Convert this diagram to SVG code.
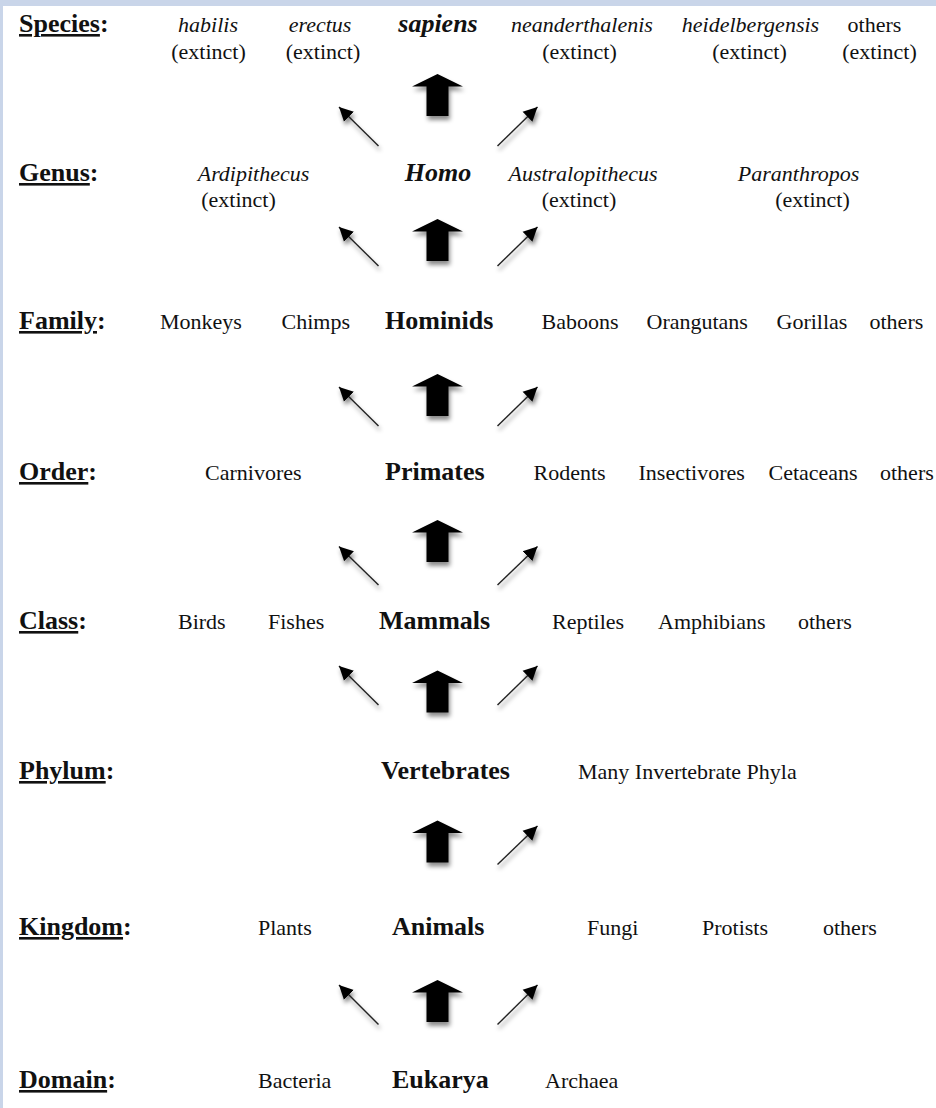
<svg xmlns="http://www.w3.org/2000/svg" width="936" height="1108" viewBox="0 0 936 1108">
<style>
text{font-family:"Liberation Serif","Times New Roman",serif;fill:#111}
.t{font-size:22px}
.i{font-size:22px;font-style:italic}
.b{font-size:26px;font-weight:bold}
.bi{font-size:26px;font-weight:bold;font-style:italic}
.m{text-anchor:middle}
.u{text-decoration:underline}
.big{fill:#000}
.diag{stroke:#222;stroke-width:1.4;fill:none;marker-end:url(#ah)}
</style>
<defs>
<marker id="ah" markerUnits="userSpaceOnUse" markerWidth="16" markerHeight="16" refX="14" refY="7" orient="auto" viewBox="0 0 16 14">
<path d="M0,0 L14,7 L0,14 Z" fill="#000"/>
</marker>
<filter id="sh" x="-30%" y="-30%" width="160%" height="170%">
<feDropShadow dx="1.5" dy="4" stdDeviation="2" flood-color="#000" flood-opacity="0.45"/>
</filter>
<path id="bigA" d="M0,0 L25.5,12.5 L11,12.5 L11,42 L-11,42 L-11,12.5 L-25.5,12.5 Z"/>
</defs>
<rect width="936" height="1108" fill="#fff"/>
<rect x="0" y="0" width="936" height="6" fill="#c9d5e9"/>
<rect x="0" y="0" width="3" height="1108" fill="#c9d5e9"/>

<g id="species-row">
<text class="b" x="19" y="32"><tspan class="u">Species</tspan>:</text>
<g id="n-habilis"><text class="i m" x="208" y="32">habilis</text><text class="t m" x="208.5" y="59">(extinct)</text></g>
<g id="n-erectus"><text class="i m" x="320" y="32">erectus</text><text class="t m" x="323" y="59">(extinct)</text></g>
<g id="n-sapiens"><text class="bi m" x="438" y="32">sapiens</text></g>
<g id="n-neanderthalenis"><text class="i m" x="582" y="32">neanderthalenis</text><text class="t m" x="579.5" y="59">(extinct)</text></g>
<g id="n-heidelbergensis"><text class="i m" x="750.5" y="32">heidelbergensis</text><text class="t m" x="749.5" y="59">(extinct)</text></g>
<g id="n-species-others"><text class="t m" x="874.5" y="32">others</text><text class="t m" x="879.5" y="59">(extinct)</text></g>
</g>

<g id="genus-row">
<text class="b" x="19" y="181"><tspan class="u">Genus</tspan>:</text>
<g id="n-ardipithecus"><text class="i m" x="253.5" y="181">Ardipithecus</text><text class="t m" x="238.5" y="207">(extinct)</text></g>
<g id="n-homo"><text class="bi m" x="438" y="181">Homo</text></g>
<g id="n-australopithecus"><text class="i m" x="583" y="181">Australopithecus</text><text class="t m" x="579" y="207">(extinct)</text></g>
<g id="n-paranthropos"><text class="i m" x="798.5" y="181">Paranthropos</text><text class="t m" x="812.5" y="207">(extinct)</text></g>
</g>

<g id="family-row">
<text class="b" x="19" y="329"><tspan class="u">Family</tspan>:</text>
<g id="n-monkeys"><text class="t" x="160" y="329">Monkeys</text></g>
<g id="n-chimps"><text class="t" x="281.5" y="329">Chimps</text></g>
<g id="n-hominids"><text class="b" x="385" y="329">Hominids</text></g>
<g id="n-baboons"><text class="t" x="541.5" y="329">Baboons</text></g>
<g id="n-orangutans"><text class="t" x="646.5" y="329">Orangutans</text></g>
<g id="n-gorillas"><text class="t" x="776.5" y="329">Gorillas</text></g>
<g id="n-family-others"><text class="t" x="869.5" y="329">others</text></g>
</g>

<g id="order-row">
<text class="b" x="19" y="480"><tspan class="u">Order</tspan>:</text>
<g id="n-carnivores"><text class="t" x="205" y="480">Carnivores</text></g>
<g id="n-primates"><text class="b" x="385" y="480">Primates</text></g>
<g id="n-rodents"><text class="t" x="533.5" y="480">Rodents</text></g>
<g id="n-insectivores"><text class="t" x="638.5" y="480">Insectivores</text></g>
<g id="n-cetaceans"><text class="t" x="768.5" y="480">Cetaceans</text></g>
<g id="n-order-others"><text class="t" x="880" y="480">others</text></g>
</g>

<g id="class-row">
<text class="b" x="19" y="629"><tspan class="u">Class</tspan>:</text>
<g id="n-birds"><text class="t" x="178" y="629">Birds</text></g>
<g id="n-fishes"><text class="t" x="268" y="629">Fishes</text></g>
<g id="n-mammals"><text class="b" x="379" y="629">Mammals</text></g>
<g id="n-reptiles"><text class="t" x="552" y="629">Reptiles</text></g>
<g id="n-amphibians"><text class="t" x="658" y="629">Amphibians</text></g>
<g id="n-class-others"><text class="t" x="798" y="629">others</text></g>
</g>

<g id="phylum-row">
<text class="b" x="19" y="779"><tspan class="u">Phylum</tspan>:</text>
<g id="n-vertebrates"><text class="b" x="381" y="779">Vertebrates</text></g>
<g id="n-invertebrates"><text class="t" x="578" y="779">Many Invertebrate Phyla</text></g>
</g>

<g id="kingdom-row">
<text class="b" x="19" y="935"><tspan class="u">Kingdom</tspan>:</text>
<g id="n-plants"><text class="t" x="258" y="935">Plants</text></g>
<g id="n-animals"><text class="b" x="392" y="935">Animals</text></g>
<g id="n-fungi"><text class="t" x="587" y="935">Fungi</text></g>
<g id="n-protists"><text class="t" x="702" y="935">Protists</text></g>
<g id="n-kingdom-others"><text class="t" x="823" y="935">others</text></g>
</g>

<g id="domain-row">
<text class="b" x="19" y="1088"><tspan class="u">Domain</tspan>:</text>
<g id="n-bacteria"><text class="t" x="258" y="1088">Bacteria</text></g>
<g id="n-eukarya"><text class="b" x="392" y="1088">Eukarya</text></g>
<g id="n-archaea"><text class="t" x="545" y="1088">Archaea</text></g>
</g>

<g id="connectors" filter="url(#sh)">
<use href="#bigA" class="big" x="437.5" y="74"/>
<line class="diag" x1="378.5" y1="146" x2="339" y2="107"/>
<line class="diag" x1="497.5" y1="146" x2="537.5" y2="107"/>

<use href="#bigA" class="big" x="437.5" y="219"/>
<line class="diag" x1="378.5" y1="266" x2="339" y2="227"/>
<line class="diag" x1="497.5" y1="266" x2="537.5" y2="227"/>

<use href="#bigA" class="big" x="437.5" y="374"/>
<line class="diag" x1="378.5" y1="426" x2="339" y2="387"/>
<line class="diag" x1="497.5" y1="426" x2="537.5" y2="387"/>

<use href="#bigA" class="big" x="437.5" y="520"/>
<line class="diag" x1="378.5" y1="585" x2="339" y2="546.5"/>
<line class="diag" x1="497.5" y1="585" x2="537.5" y2="546.5"/>

<use href="#bigA" class="big" x="437.5" y="670.5"/>
<line class="diag" x1="378.5" y1="705" x2="339" y2="666"/>
<line class="diag" x1="497.5" y1="705" x2="537.5" y2="666"/>

<use href="#bigA" class="big" x="437.5" y="820.5"/>
<line class="diag" x1="497.5" y1="864.5" x2="537.5" y2="826"/>

<use href="#bigA" class="big" x="437.5" y="980"/>
<line class="diag" x1="378.5" y1="1024.5" x2="339" y2="985"/>
<line class="diag" x1="497.5" y1="1024.5" x2="537.5" y2="985"/>
</g>
</svg>
